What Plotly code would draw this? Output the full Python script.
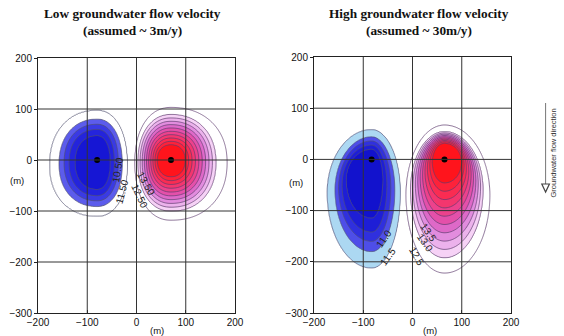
import numpy as np
import plotly.graph_objects as go

# ---------------- data ----------------
title_left = ["Low groundwater flow velocity", "(assumed ~ 3m/y)"]
title_right = ["High groundwater flow velocity", "(assumed ~ 30m/y)"]

x_ticks = [-200, -100, 0, 100, 200]
y_ticks = [-300, -200, -100, 0, 100, 200]
x_grid = [-100, 0, 100]
y_grid = [-200, -100, 0, 100]

wells_left_x = [-80, 70]
wells_left_y = [0, 0]
wells_right_x = [-83, 65]
wells_right_y = [0, 0]

background_T = 12.0

# isotherm knots (deg C), from well outwards, with the extent (m) of each isotherm
# xl/xr: left/right edge, yt/yb: top/bottom edge, ym: height of widest point
lc_T = [6.5, 7.5, 8.5, 9.5, 10.5, 11.5, 11.99]
lc_xl = [-84, -125, -137, -147, -157, -176, -215]
lc_xr = [-76, -53, -45, -37, -29, -19, 10]
lc_yt = [4, 48, 60, 70, 80, 97, 140]
lc_yb = [-4, -58, -70, -80, -91, -110, -160]
lc_ym = [0, -5, -5, -5, -8, -10, -10]

lw_T = [15.6, 15.0, 12.75, 12.5, 12.01]
lw_xl = [66, 42, 3, -3, -40]
lw_xr = [74, 99, 161, 184, 220]
lw_yt = [4, 30, 89, 103, 140]
lw_yb = [-4, -33, -100, -118, -160]
lw_ym = [0, 0, -5, -5, -5]

rc_T = [9.0, 9.5, 10.0, 10.5, 11.0, 11.5, 11.99]
rc_xl = [-87, -135, -143, -150, -157, -173, -210]
rc_xr = [-78, -60, -52, -44, -36, -25, 5]
rc_yt = [4, 20, 28, 36, 44, 58, 100]
rc_yb = [-4, -115, -142, -160, -180, -212, -280]
rc_ym = [0, -40, -50, -55, -60, -65, -70]

rw_T = [15.6, 15.0, 12.75, 12.5, 12.01]
rw_xl = [61, 40, -4, -13, -50]
rw_xr = [69, 100, 143, 157, 195]
rw_yt = [4, 32, 54, 67, 110]
rw_yb = [-4, -46, -192, -222, -290]
rw_ym = [0, -5, -60, -70, -80]

# isotherm labels
lab_left_text = ["10.50", "11.50", "13.50", "12.50"]
lab_left_x = [-39, -30, 19, 7]
lab_left_y = [-20, -61, -47, -71]
lab_left_ang = [-80, -75, 60, 65]

lab_right_text = ["11.0", "11.5", "13.5", "13.0", "12.5"]
lab_right_x = [-58, -50, 33, 25, 9]
lab_right_y = [-154, -189, -142, -163, -189]
lab_right_ang = [-55, -55, 55, 55, 60]

# ---------------- field construction ----------------
gx = np.arange(-200, 201, 2.0)
gy = np.arange(-300, 201, 2.0)
X, Y = np.meshgrid(gx, gy)


def isotherm_field(xc, T, xl, xr, yt, yb, ym, p=2.0, steps=60):
    k = len(T)
    idx = np.arange(k)
    s_grid = np.linspace(0, k - 1, steps * (k - 1) + 1)
    ds = s_grid[1] - s_grid[0]
    s_found = np.full(X.shape, np.nan)
    r_prev = None
    dx = X - xc
    for s in s_grid:
        l = np.interp(s, idx, xl)
        r = np.interp(s, idx, xr)
        t = np.interp(s, idx, yt)
        b = np.interp(s, idx, yb)
        m = np.interp(s, idx, ym)
        nx = np.where(dx < 0, dx / (xc - l), dx / (r - xc))
        dy = Y - m
        ny = np.where(dy > 0, dy / (t - m), dy / (b - m))
        rad = (np.abs(nx) ** p + np.abs(ny) ** p) ** (1.0 / p)
        new = np.isnan(s_found) & (rad <= 1)
        if r_prev is None:
            s_found[new] = s
        else:
            rp = r_prev[new]
            rc = rad[new]
            frac = np.clip((rp - 1) / np.maximum(rp - rc, 1e-9), 0, 1)
            s_found[new] = s - ds + frac * ds
        r_prev = rad
    Z = np.interp(np.nan_to_num(s_found, nan=k - 1), idx, T)
    Z[np.isnan(s_found)] = background_T
    return Z


Z_lc = isotherm_field(wells_left_x[0], lc_T, lc_xl, lc_xr, lc_yt, lc_yb, lc_ym, p=2.2)
Z_lw = isotherm_field(wells_left_x[1], lw_T, lw_xl, lw_xr, lw_yt, lw_yb, lw_ym, p=2.2)
Z_rc = isotherm_field(wells_right_x[0], rc_T, rc_xl, rc_xr, rc_yt, rc_yb, rc_ym, p=2.0)
Z_rw = isotherm_field(wells_right_x[1], rw_T, rw_xl, rw_xr, rw_yt, rw_yb, rw_ym, p=2.0)

CLEAR = "rgba(255,255,255,0)"


def band_scale(colors):
    n = len(colors) - 1
    return [[j / n, c] for j, c in enumerate(colors)]


# band colours listed from the outside (ambient) inwards
cold_left_colors = [CLEAR, CLEAR, "rgb(92,92,236)", "rgb(58,58,228)",
                    "rgb(36,36,220)", "rgb(22,22,212)"]
cold_right_colors = [CLEAR, "rgb(172,216,242)", "rgb(78,78,232)",
                     "rgb(48,48,222)", "rgb(30,30,214)", "rgb(18,18,205)"]
warm_colors = [CLEAR, CLEAR, "rgb(246,210,246)", "rgb(236,178,236)",
               "rgb(226,140,222)", "rgb(222,105,200)", "rgb(228,80,170)",
               "rgb(236,66,140)", "rgb(244,54,110)", "rgb(250,44,82)",
               "rgb(253,34,58)", "rgb(255,20,28)"]


def contour(Z, start, end, size, colors, xa, ya, lc):
    return go.Contour(
        x=gx, y=gy, z=Z, xaxis=xa, yaxis=ya, autocontour=False,
        contours=dict(start=start, end=end, size=size, coloring="fill",
                      showlines=True),
        colorscale=band_scale(colors), showscale=False,
        line=dict(color=lc, width=0.7, smoothing=1.0), hoverinfo="skip")


# cold plumes are mirrored about the ambient temperature so that the ambient
# side is the low end of the contour scale (keeps outer bands transparent)
def mirror(Z):
    return 2 * background_T - Z


fig = go.Figure()
fig.add_trace(contour(mirror(Z_lc), 2 * background_T - 11.5, 2 * background_T - 7.5, 1.0,
                      cold_left_colors, "x", "y", "rgb(80,80,110)"))
fig.add_trace(contour(Z_lw, 12.5, 15.0, 0.25, warm_colors, "x", "y", "rgb(95,60,110)"))
fig.add_trace(contour(mirror(Z_rc), 2 * background_T - 11.5, 2 * background_T - 9.5, 0.5,
                      cold_right_colors, "x2", "y2", "rgb(80,80,120)"))
fig.add_trace(contour(Z_rw, 12.5, 15.0, 0.25, warm_colors, "x2", "y2", "rgb(95,60,110)"))

fig.add_trace(go.Scatter(x=wells_left_x, y=wells_left_y, mode="markers",
                         marker=dict(color="black", size=6), xaxis="x", yaxis="y",
                         hoverinfo="skip"))
fig.add_trace(go.Scatter(x=wells_right_x, y=wells_right_y, mode="markers",
                         marker=dict(color="black", size=6), xaxis="x2", yaxis="y2",
                         hoverinfo="skip"))

W, H = 564, 336


def px(xp):
    return xp / W


def py(yp):
    return 1 - yp / H


tickfont = dict(family="Liberation Sans, Arial, sans-serif", size=10, color="#111")
ax_common = dict(showgrid=False, zeroline=False, showline=True, mirror=True,
                 linecolor="#222", linewidth=1, ticklen=3,
                 tickcolor="#222", tickfont=tickfont, fixedrange=True,
                 automargin=False)

fig.update_layout(
    width=W, height=H, margin=dict(l=0, r=0, t=0, b=0, pad=0),
    paper_bgcolor="white", plot_bgcolor="white", showlegend=False,
    xaxis=dict(domain=[px(38), px(235)], range=[-200, 200], tickvals=x_ticks,
               anchor="y", ticks="inside", **ax_common),
    yaxis=dict(domain=[py(313), py(58)], range=[-300, 200], tickvals=y_ticks,
               anchor="x", ticks="outside", **ax_common),
    xaxis2=dict(domain=[px(314), px(511)], range=[-200, 200], tickvals=x_ticks,
                anchor="y2", ticks="inside", **ax_common),
    yaxis2=dict(domain=[py(313), py(57)], range=[-300, 200], tickvals=y_ticks,
                anchor="x2", ticks="outside", **ax_common),
)

shapes = []
for xr_, yr_ in (("x", "y"), ("x2", "y2")):
    for v in x_grid:
        shapes.append(dict(type="line", xref=xr_, yref=yr_, x0=v, x1=v,
                           y0=y_ticks[0], y1=y_ticks[-1], layer="above",
                           line=dict(color="#333", width=1)))
    for v in y_grid:
        shapes.append(dict(type="line", xref=xr_, yref=yr_, y0=v, y1=v,
                           x0=x_ticks[0], x1=x_ticks[-1], layer="above",
                           line=dict(color="#333", width=1)))

# flow direction arrow
shapes.append(dict(type="line", xref="paper", yref="paper", x0=px(545.6), x1=px(545.6),
                   y0=py(103), y1=py(184), line=dict(color="#777", width=1)))
shapes.append(dict(type="path", xref="paper", yref="paper",
                   path=f"M {px(541.8)} {py(184)} L {px(549.4)} {py(184)} L {px(545.6)} {py(192)} Z",
                   line=dict(color="#444", width=1.2), fillcolor="white"))
fig.update_layout(shapes=shapes)

ann = []
title_font = dict(family="Liberation Serif, Times New Roman, serif", size=13.3, color="#111")
for cx, lines in ((132, title_left), (419, title_right)):
    for yy, line in zip((14, 30), lines):
        ann.append(dict(x=px(cx), y=py(yy), xref="paper", yref="paper", showarrow=False,
                        text="<b>" + line + "</b>", font=title_font,
                        xanchor="center", yanchor="middle"))

mfont = dict(family="Liberation Sans, Arial, sans-serif", size=9.5, color="#111")
for (x0, y0) in ((17, 180), (296, 182), (157, 330), (430, 330)):
    ann.append(dict(x=px(x0), y=py(y0), xref="paper", yref="paper", showarrow=False,
                    text="(m)", font=mfont, xanchor="center", yanchor="middle"))

lfont = dict(family="Liberation Sans, Arial, sans-serif", size=10, color="#222")
for t, x0, y0, a in zip(lab_left_text, lab_left_x, lab_left_y, lab_left_ang):
    ann.append(dict(x=x0, y=y0, xref="x", yref="y", text=t, showarrow=False,
                    textangle=a, font=lfont))
for t, x0, y0, a in zip(lab_right_text, lab_right_x, lab_right_y, lab_right_ang):
    ann.append(dict(x=x0, y=y0, xref="x2", yref="y2", text=t, showarrow=False,
                    textangle=a, font=lfont))

ann.append(dict(x=px(560), y=py(153), xref="paper", yref="paper", showarrow=False,
                text="Groundwater flow direction", textangle=-90,
                font=dict(family="Liberation Sans, Arial, sans-serif", size=7.5, color="#333")))
fig.update_layout(annotations=ann)

fig.write_html("out.html", config={"displayModeBar": False},
               post_script="document.body.style.margin='0px';"
                           "document.body.style.overflow='hidden';")
